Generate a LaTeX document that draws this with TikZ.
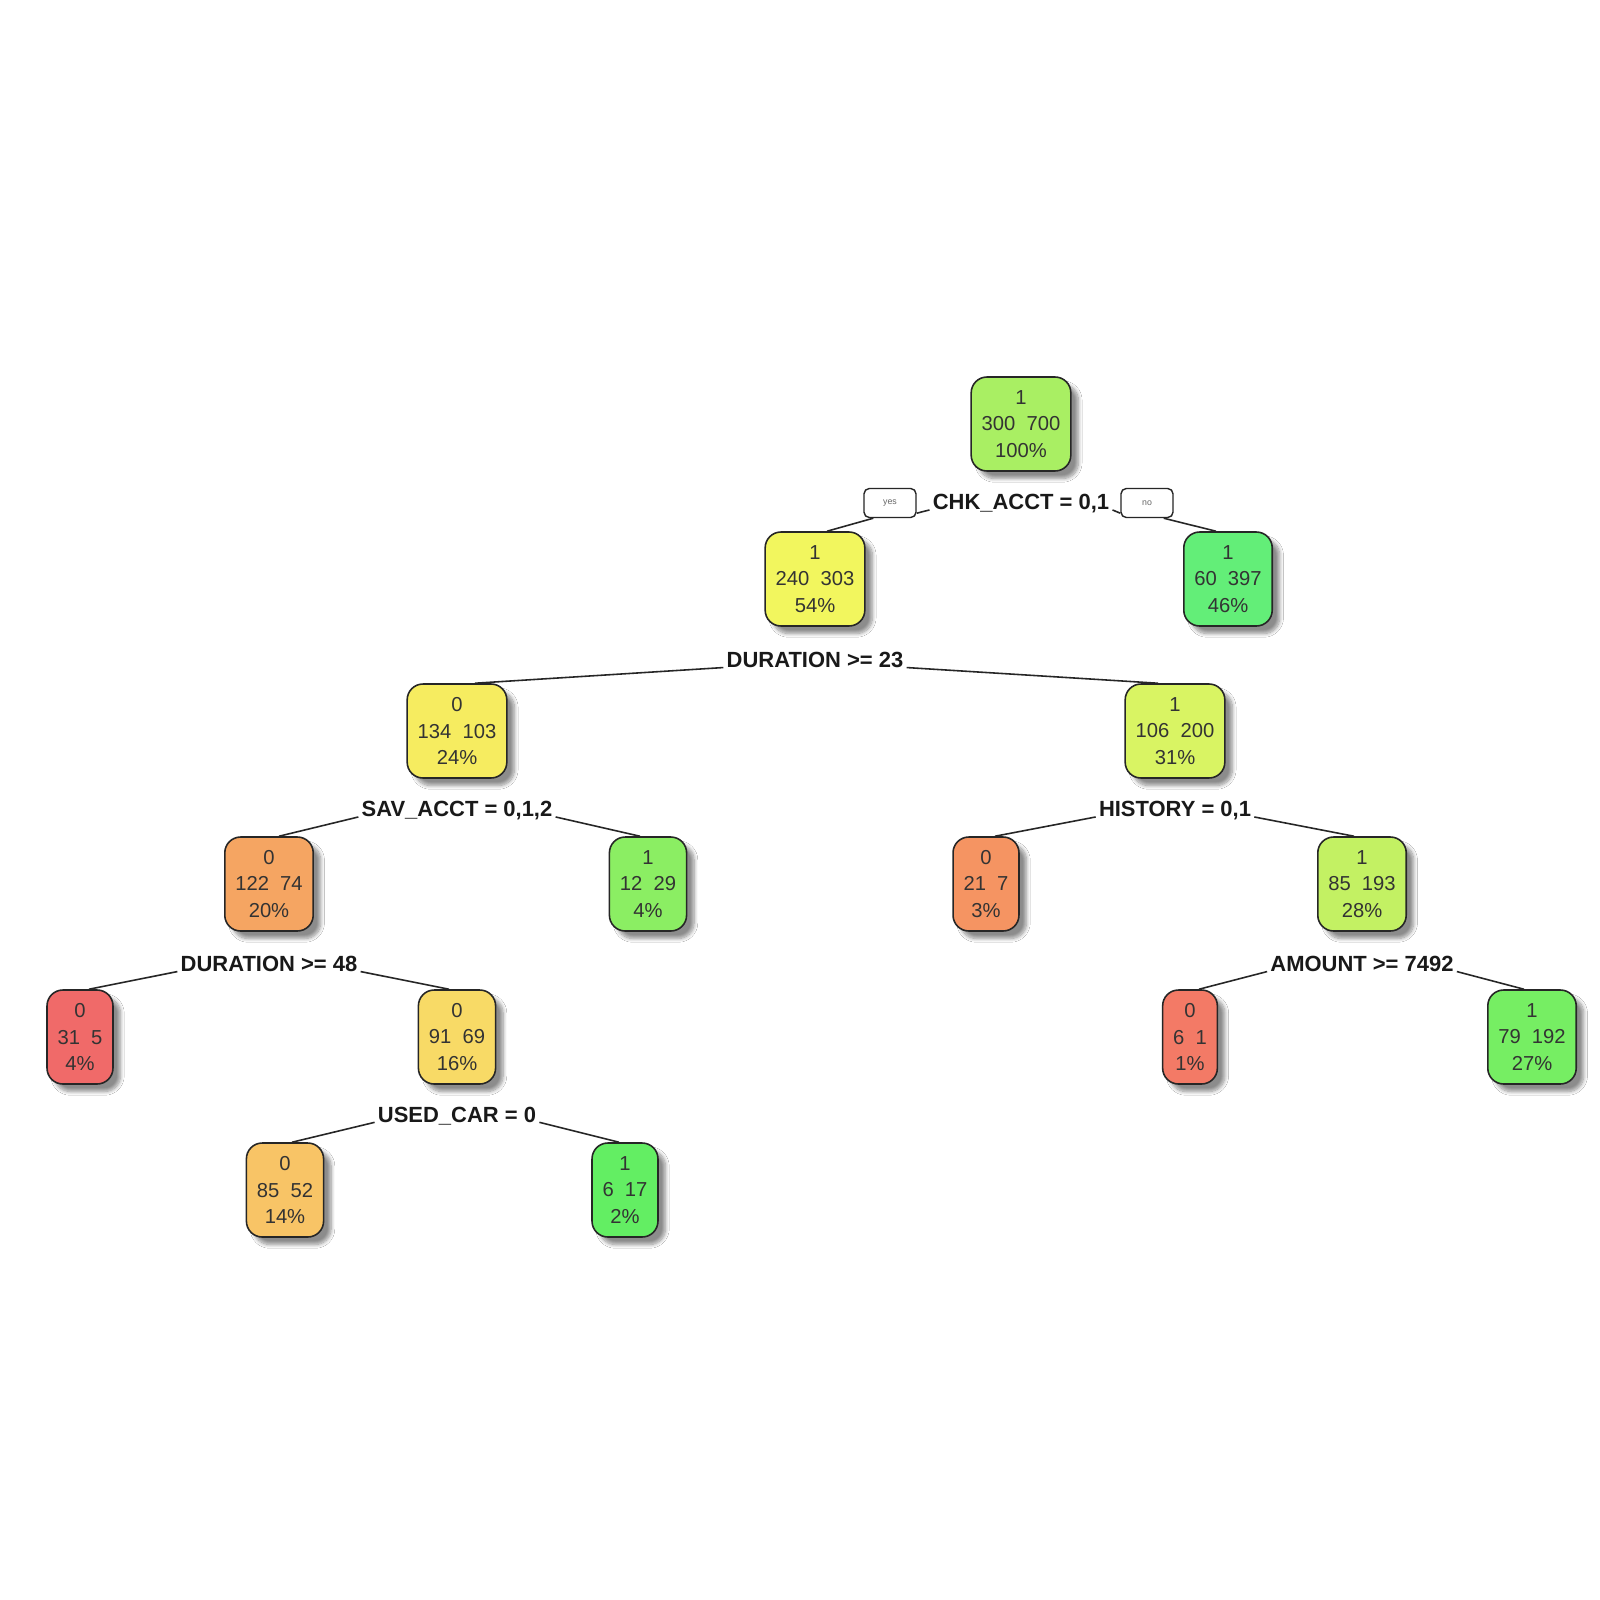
\documentclass[tikz,border=0pt]{standalone}
\usepackage{fontspec}
\setmainfont{Liberation Sans}
\usepackage{xcolor}
\usetikzlibrary{calc,shadows.blur}
\definecolor{col1}{HTML}{A9EF63}
\definecolor{col2}{HTML}{F2F65E}
\definecolor{col3}{HTML}{63EE78}
\definecolor{col4}{HTML}{F6EC60}
\definecolor{col5}{HTML}{D9F463}
\definecolor{col8}{HTML}{F5A562}
\definecolor{col9}{HTML}{8BEE63}
\definecolor{col10}{HTML}{F59462}
\definecolor{col11}{HTML}{C3F163}
\definecolor{col16}{HTML}{F06A69}
\definecolor{col17}{HTML}{F8DA66}
\definecolor{col22}{HTML}{F37A66}
\definecolor{col23}{HTML}{76EE63}
\definecolor{col34}{HTML}{F8C466}
\definecolor{col35}{HTML}{63EE63}

\begin{document}
\begin{tikzpicture}[x=0.02cm, y=-0.02cm,
    every node/.style={font=\fontsize{11.5}{15}\selectfont, align=center},
    treebox/.style={draw=black!85, line width=0.9pt, rounded corners=9pt,
        minimum height=1.88cm, inner xsep=0.21cm, text=black!80,
        blur shadow={shadow xshift=0.15cm, shadow yshift=-0.15cm,
                     shadow blur steps=8, shadow opacity=45}},
    splitlab/.style={font=\fontsize{12.5}{15}\selectfont\bfseries,
        text=black!90, inner xsep=0.06cm, inner ysep=0pt},
    yesno/.style={draw=black!85, fill=white, line width=0.8pt,
        rounded corners=3pt, minimum width=1.04cm, minimum height=0.58cm,
        inner sep=0pt, font=\fontsize{5}{6}\selectfont, text=black!60},
    branch/.style={draw=black!85, line width=0.9pt}]

  \fill[white] (0,0) rectangle (1600,1600);
  \useasboundingbox (0,0) rectangle (1600,1600);

  % root and first split
  \node[treebox, fill=col1] (n1) at (1021,424) {1\\300~~700\\100\%};
  \node[treebox, fill=col2] (n2) at ($(n1)+(-206,155)$) {1\\240~~303\\54\%};
  \node[treebox, fill=col3] (n3) at ($(n1)+(207,155)$) {1\\60~~397\\46\%};
  \node[splitlab] (chk) at ($(n1)+(0,80)$) {CHK\_ACCT = 0,1};
  \node[yesno] (yes) at (890,503) {yes};
  \node[yesno] (no) at (1147,503) {no};

  % second level
  \node[treebox, fill=col4] (n4) at ($(n2)+(-358,152)$) {0\\134~~103\\24\%};
  \node[treebox, fill=col5] (n5) at ($(n2)+(360,152)$) {1\\106~~200\\31\%};
  \node[splitlab] (dur23) at ($(n2)+(0,81)$) {DURATION >= 23};

  % third level
  \node[treebox, fill=col8] (n8) at ($(n4)+(-188,153)$) {0\\122~~74\\20\%};
  \node[treebox, fill=col9] (n9) at ($(n4)+(191,153)$) {1\\12~~29\\4\%};
  \node[splitlab] (sav) at ($(n4)+(0,80)$) {SAV\_ACCT = 0,1,2};

  \node[treebox, fill=col10] (n10) at ($(n5)+(-189,153)$) {0\\21~~7\\3\%};
  \node[treebox, fill=col11] (n11) at ($(n5)+(187,153)$) {1\\85~~193\\28\%};
  \node[splitlab] (hist) at ($(n5)+(0,80)$) {HISTORY = 0,1};

  % fourth level
  \node[treebox, fill=col16] (n16) at ($(n8)+(-189,153)$) {0\\31~~5\\4\%};
  \node[treebox, fill=col17] (n17) at ($(n8)+(188,153)$) {0\\91~~69\\16\%};
  \node[splitlab] (dur48) at ($(n8)+(0,80)$) {DURATION >= 48};

  \node[treebox, fill=col22] (n22) at ($(n11)+(-172,153)$) {0\\6~~1\\1\%};
  \node[treebox, fill=col23] (n23) at ($(n11)+(170,153)$) {1\\79~~192\\27\%};
  \node[splitlab] (amt) at ($(n11)+(0,80)$) {AMOUNT >= 7492};

  % last level
  \node[treebox, fill=col34] (n34) at ($(n17)+(-172,153)$) {0\\85~~52\\14\%};
  \node[treebox, fill=col35] (n35) at ($(n17)+(168,153)$) {1\\6~~17\\2\%};
  \node[splitlab] (used) at ($(n17)+(0,79)$) {USED\_CAR = 0};

  % branches
  \draw[branch] ([xshift=0.24cm]n2.north) -- ([xshift=0.2cm]yes.south west);
  \draw[branch] ([yshift=0.1cm]yes.south east) -- (chk.base west);
  \draw[branch] (chk.base east) -- ([yshift=0.1cm]no.south west);
  \draw[branch] ([xshift=-0.2cm]no.south east) -- ([xshift=-0.24cm]n3.north);

  \draw[branch] (dur23.base west) -- ([xshift=0.36cm]n4.north);
  \draw[branch] (dur23.base east) -- ([xshift=-0.34cm]n5.north);
  \draw[branch] (sav.base west) -- ([xshift=0.2cm]n8.north);
  \draw[branch] (sav.base east) -- ([xshift=-0.16cm]n9.north);
  \draw[branch] (hist.base west) -- ([xshift=0.18cm]n10.north);
  \draw[branch] (hist.base east) -- ([xshift=-0.16cm]n11.north);
  \draw[branch] (dur48.base west) -- ([xshift=0.18cm]n16.north);
  \draw[branch] (dur48.base east) -- ([xshift=-0.16cm]n17.north);
  \draw[branch] (amt.base west) -- ([xshift=0.18cm]n22.north);
  \draw[branch] (amt.base east) -- ([xshift=-0.16cm]n23.north);
  \draw[branch] (used.base west) -- ([xshift=0.14cm]n34.north);
  \draw[branch] (used.base east) -- ([xshift=-0.12cm]n35.north);
\end{tikzpicture}
\end{document}
